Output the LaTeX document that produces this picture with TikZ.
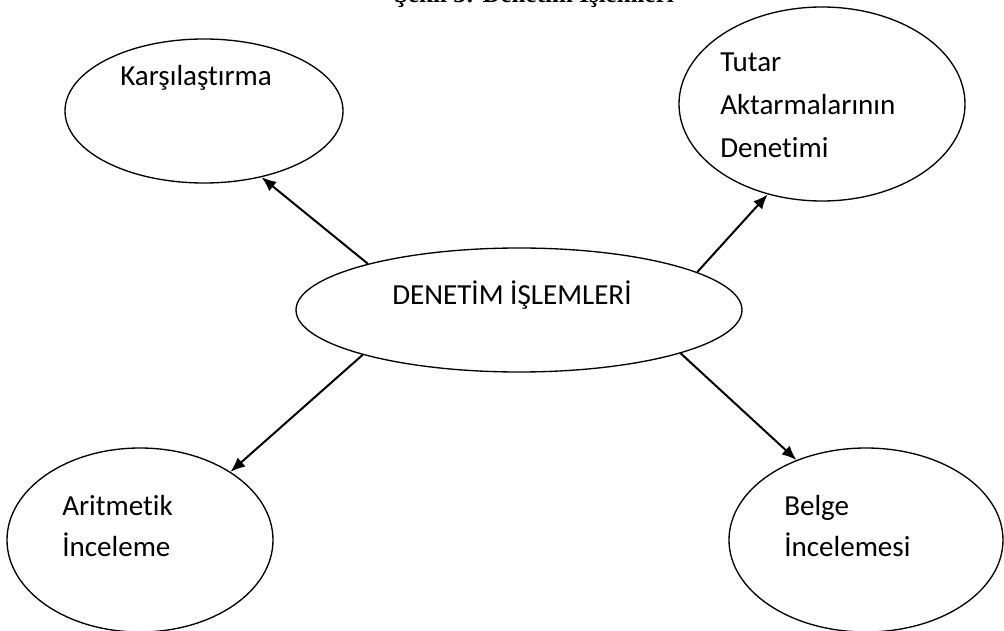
\documentclass[tikz,border=0pt]{standalone}
\usepackage{fontspec}
\setmainfont{Carlito}[Ligatures=NoCommon]
\newfontfamily\baslikfont{Liberation Serif}
\usetikzlibrary{arrows.meta,shapes.geometric}

\begin{document}
\begin{tikzpicture}[x=0.75pt,y=-0.75pt,
  kabarcik/.style={draw,ellipse,line width=1pt,inner sep=0pt},
  yazi/.style={anchor=north west,align=left,inner sep=0pt,
    font=\fontsize{21.8}{31}\selectfont},
  ok/.style={line width=1.5pt,-{Latex[length=11pt,width=9pt]}}]
\useasboundingbox (0,0) rectangle (1004,631);
\clip (0,0) rectangle (1004,631);

% baslik (ustten kesik)
\node[anchor=base,inner sep=0pt,font=\baslikfont\bfseries\fontsize{18.8}{22}\selectfont]
  (baslik) at (534,3) {Şekil 3: Denetim İşlemleri};

% elipsler
\node[kabarcik,minimum width=208.5pt,minimum height=108pt] (karsE) at (204,111) {};
\node[kabarcik,minimum width=214.5pt,minimum height=145.5pt] (tutarE) at (822,104) {};
\node[kabarcik,minimum width=334.5pt,minimum height=93pt] (merkez) at (519,310) {};
\node[kabarcik,minimum width=199.5pt,minimum height=138pt] (aritE) at (140,540) {};
\node[kabarcik,minimum width=205.5pt,minimum height=138pt] (belgeE) at (866,540) {};

% yazilar
\node[yazi] (karsT) at (120,65) {Karşılaştırma};
\node[yazi] (tutarT) at (720,53) {Tutar\\[1pt]Aktarmalarının\\[1pt]Denetimi};
\node[yazi] (merkezT) at (392,281) {DENETİM İŞLEMLERİ};
\node[yazi] (aritT) at (62,495) {Aritmetik\\İnceleme};
\node[yazi] (belgeT) at (784,495) {Belge\\İncelemesi};

% oklar
\draw[ok] (merkez.163) -- (karsE.311);
\draw[ok] (merkez.12) -- (tutarE.239);
\draw[ok] (merkez.196) -- (aritE.37);
\draw[ok] (merkez.345) -- (belgeE.131);

\end{tikzpicture}
\end{document}
